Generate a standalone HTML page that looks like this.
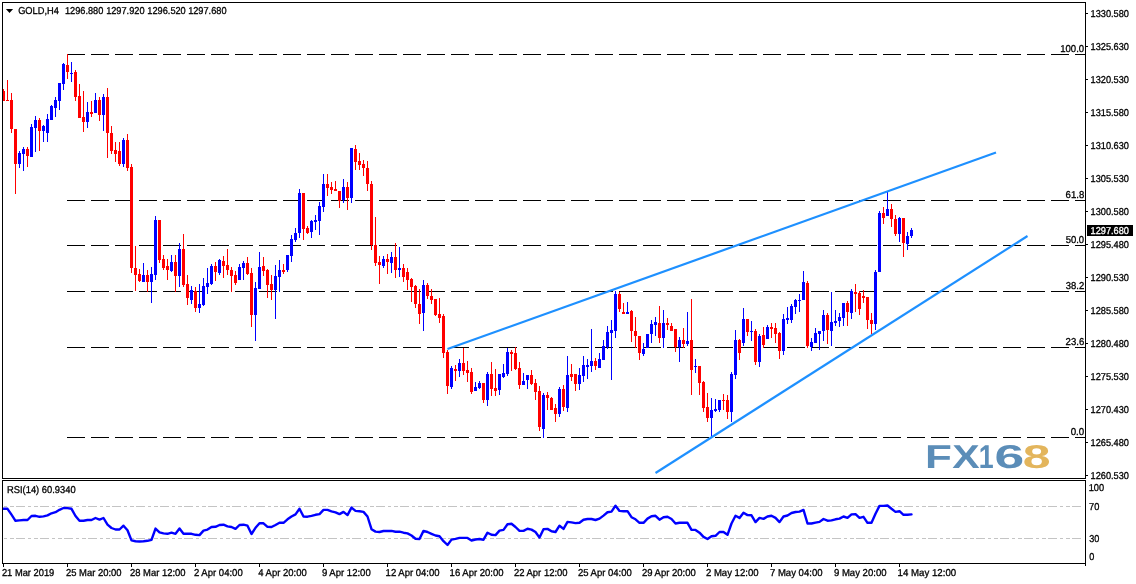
<!DOCTYPE html>
<html lang="en"><head><meta charset="utf-8"><title>GOLD,H4</title>
<style>
html,body{margin:0;padding:0;background:#fff;}
body{width:1136px;height:584px;overflow:hidden;}
svg{display:block;font-family:"Liberation Sans",sans-serif;}
.t{font-size:10.0px;stroke:#000;stroke-width:0.3px;text-rendering:geometricPrecision;}
.w{stroke:#fff;fill:#fff;}
.ce{shape-rendering:crispEdges;}
</style></head><body>
<svg width="1136" height="584" viewBox="0 0 1136 584" fill="#000">
<rect x="0" y="0" width="1136" height="584" fill="#fff"/>
<g class="ce" stroke="#c4c4c4" stroke-width="1" stroke-dasharray="9 2 4 3 3 3" fill="none">
<line x1="1081" y1="506.5" x2="3" y2="506.5"/>
<line x1="1081" y1="538.5" x2="3" y2="538.5"/>
</g>
<g class="ce" stroke="#000" stroke-width="1" stroke-dasharray="18 6" fill="none">
<line x1="67" y1="54.5" x2="1085" y2="54.5"/>
<line x1="67" y1="200.5" x2="1085" y2="200.5"/>
<line x1="67" y1="245.5" x2="1085" y2="245.5"/>
<line x1="67" y1="291.5" x2="1085" y2="291.5"/>
<line x1="67" y1="347.5" x2="1085" y2="347.5"/>
<line x1="67" y1="437.5" x2="1085" y2="437.5"/>
</g>
<g class="ce">
<path fill="#ff0000" d="M3 89h1V101h-1zM2 91h3V101h-3zM7 80h1V101h-1zM6 100h3V101h-3zM11 93h1V133h-1zM10 100h3V129h-3zM15 129h1V194h-1zM14 129h3V164h-3zM27 147h1V167h-1zM26 149h3V156h-3zM39 118h1V151h-1zM38 120h3V131h-3zM67 54h1V79h-1zM66 65h3V72h-3zM75 70h1V101h-1zM74 72h3V97h-3zM79 84h1V118h-1zM78 96h3V118h-3zM83 91h1V132h-1zM82 117h3V122h-3zM91 101h1V117h-1zM90 112h3V114h-3zM99 97h1V121h-1zM98 100h3V115h-3zM107 88h1V158h-1zM106 97h3V133h-3zM111 126h1V154h-1zM110 133h3V151h-3zM115 142h1V162h-1zM114 150h3V154h-3zM119 142h1V166h-1zM118 151h3V164h-3zM127 134h1V171h-1zM126 140h3V168h-3zM131 164h1V273h-1zM130 167h3V268h-3zM135 246h1V291h-1zM134 268h3V275h-3zM139 269h1V282h-1zM138 274h3V281h-3zM147 270h1V292h-1zM146 275h3V282h-3zM159 220h1V263h-1zM158 220h3V260h-3zM163 255h1V270h-1zM162 259h3V268h-3zM167 259h1V280h-1zM166 266h3V270h-3zM175 255h1V292h-1zM174 262h3V276h-3zM183 234h1V287h-1zM182 249h3V285h-3zM187 275h1V305h-1zM186 284h3V298h-3zM195 287h1V312h-1zM194 291h3V308h-3zM215 262h1V281h-1zM214 266h3V272h-3zM223 256h1V278h-1zM222 261h3V266h-3zM227 249h1V275h-1zM226 265h3V270h-3zM231 267h1V292h-1zM230 270h3V276h-3zM235 271h1V285h-1zM234 275h3V283h-3zM247 257h1V275h-1zM246 263h3V274h-3zM251 268h1V327h-1zM250 273h3V315h-3zM263 257h1V276h-1zM262 266h3V271h-3zM267 269h1V298h-1zM266 270h3V285h-3zM271 275h1V300h-1zM270 284h3V290h-3zM283 264h1V274h-1zM282 270h3V272h-3zM303 193h1V240h-1zM302 193h3V229h-3zM307 226h1V234h-1zM306 228h3V233h-3zM327 174h1V196h-1zM326 184h3V188h-3zM331 182h1V194h-1zM330 187h3V190h-3zM335 181h1V191h-1zM334 189h3V191h-3zM339 191h1V208h-1zM338 191h3V201h-3zM347 182h1V210h-1zM346 187h3V198h-3zM355 145h1V170h-1zM354 149h3V162h-3zM359 153h1V170h-1zM358 161h3V165h-3zM363 160h1V176h-1zM362 164h3V168h-3zM367 161h1V191h-1zM366 168h3V184h-3zM371 181h1V250h-1zM370 184h3V245h-3zM375 217h1V266h-1zM374 245h3V263h-3zM379 256h1V284h-1zM378 262h3V265h-3zM387 254h1V274h-1zM386 259h3V262h-3zM395 243h1V278h-1zM394 257h3V270h-3zM403 264h1V282h-1zM402 268h3V277h-3zM407 268h1V290h-1zM406 272h3V280h-3zM411 278h1V302h-1zM410 279h3V287h-3zM415 285h1V308h-1zM414 286h3V304h-3zM419 289h1V324h-1zM418 304h3V314h-3zM427 283h1V299h-1zM426 285h3V296h-3zM431 289h1V304h-1zM430 296h3V300h-3zM435 299h1V316h-1zM434 299h3V315h-3zM439 298h1V323h-1zM438 314h3V318h-3zM443 314h1V358h-1zM442 316h3V353h-3zM447 350h1V394h-1zM446 352h3V386h-3zM455 365h1V381h-1zM454 369h3V371h-3zM463 348h1V375h-1zM462 363h3V371h-3zM467 361h1V382h-1zM466 370h3V373h-3zM471 368h1V394h-1zM470 372h3V392h-3zM483 383h1V403h-1zM482 383h3V400h-3zM491 362h1V396h-1zM490 374h3V389h-3zM495 369h1V396h-1zM494 388h3V391h-3zM511 350h1V371h-1zM510 352h3V354h-3zM515 347h1V370h-1zM514 353h3V369h-3zM519 362h1V389h-1zM518 368h3V385h-3zM531 370h1V385h-1zM530 375h3V384h-3zM535 379h1V400h-1zM534 383h3V392h-3zM539 386h1V431h-1zM538 391h3V427h-3zM547 392h1V410h-1zM546 395h3V398h-3zM551 397h1V410h-1zM550 398h3V410h-3zM555 404h1V422h-1zM554 408h3V414h-3zM563 385h1V411h-1zM562 389h3V407h-3zM571 364h1V381h-1zM570 374h3V377h-3zM575 374h1V391h-1zM574 374h3V384h-3zM595 358h1V370h-1zM594 361h3V366h-3zM619 292h1V312h-1zM618 294h3V309h-3zM623 303h1V314h-1zM622 312h3V314h-3zM631 310h1V342h-1zM630 311h3V331h-3zM635 317h1V348h-1zM634 331h3V336h-3zM639 336h1V360h-1zM638 336h3V353h-3zM659 306h1V343h-1zM658 323h3V338h-3zM667 318h1V330h-1zM666 323h3V325h-3zM671 323h1V331h-1zM670 326h3V331h-3zM675 329h1V352h-1zM674 329h3V347h-3zM683 328h1V348h-1zM682 340h3V344h-3zM691 299h1V395h-1zM690 340h3V370h-3zM699 366h1V395h-1zM698 366h3V383h-3zM703 381h1V412h-1zM702 382h3V408h-3zM707 393h1V422h-1zM706 407h3V418h-3zM723 394h1V410h-1zM722 400h3V401h-3zM727 395h1V419h-1zM726 400h3V412h-3zM739 339h1V360h-1zM738 340h3V353h-3zM747 319h1V336h-1zM746 319h3V332h-3zM755 329h1V365h-1zM754 331h3V362h-3zM763 327h1V348h-1zM762 335h3V345h-3zM771 323h1V338h-1zM770 327h3V329h-3zM775 323h1V343h-1zM774 328h3V334h-3zM779 332h1V359h-1zM778 333h3V351h-3zM807 281h1V348h-1zM806 283h3V346h-3zM827 313h1V344h-1zM826 315h3V330h-3zM847 301h1V326h-1zM846 303h3V312h-3zM855 284h1V312h-1zM854 292h3V294h-3zM859 291h1V315h-1zM858 293h3V309h-3zM863 290h1V303h-1zM862 296h3V298h-3zM867 297h1V329h-1zM866 297h3V320h-3zM871 313h1V334h-1zM870 320h3V324h-3zM883 207h1V224h-1zM882 213h3V218h-3zM891 204h1V227h-1zM890 209h3V219h-3zM895 215h1V236h-1zM894 219h3V234h-3zM903 218h1V257h-1zM902 218h3V243h-3z"/>
<path fill="#0000ff" d="M19 151h1V168h-1zM18 153h3V164h-3zM23 147h1V171h-1zM22 149h3V154h-3zM31 124h1V157h-1zM30 127h3V157h-3zM35 116h1V152h-1zM34 120h3V128h-3zM43 125h1V142h-1zM42 126h3V131h-3zM47 114h1V142h-1zM46 119h3V133h-3zM51 105h1V120h-1zM50 106h3V120h-3zM55 97h1V117h-1zM54 100h3V108h-3zM59 83h1V110h-1zM58 83h3V101h-3zM63 63h1V90h-1zM62 64h3V84h-3zM71 62h1V82h-1zM70 73h3V74h-3zM87 102h1V128h-1zM86 112h3V122h-3zM95 93h1V113h-1zM94 100h3V113h-3zM103 94h1V131h-1zM102 97h3V115h-3zM123 138h1V167h-1zM122 140h3V164h-3zM143 263h1V282h-1zM142 275h3V282h-3zM151 267h1V303h-1zM150 274h3V282h-3zM155 216h1V280h-1zM154 220h3V275h-3zM171 255h1V272h-1zM170 262h3V271h-3zM179 243h1V287h-1zM178 249h3V276h-3zM191 286h1V304h-1zM190 290h3V300h-3zM199 284h1V313h-1zM198 304h3V308h-3zM203 278h1V306h-1zM202 286h3V305h-3zM207 268h1V294h-1zM206 283h3V287h-3zM211 264h1V285h-1zM210 266h3V284h-3zM219 259h1V275h-1zM218 260h3V273h-3zM239 264h1V280h-1zM238 267h3V280h-3zM243 261h1V280h-1zM242 263h3V268h-3zM255 282h1V341h-1zM254 288h3V315h-3zM259 252h1V289h-1zM258 267h3V289h-3zM275 265h1V319h-1zM274 276h3V290h-3zM279 260h1V292h-1zM278 270h3V277h-3zM287 255h1V272h-1zM286 255h3V270h-3zM291 235h1V262h-1zM290 239h3V256h-3zM295 228h1V242h-1zM294 233h3V240h-3zM299 189h1V238h-1zM298 193h3V233h-3zM311 220h1V238h-1zM310 221h3V232h-3zM315 215h1V230h-1zM314 220h3V222h-3zM319 202h1V235h-1zM318 206h3V221h-3zM323 174h1V212h-1zM322 184h3V207h-3zM343 179h1V203h-1zM342 187h3V200h-3zM351 148h1V203h-1zM350 148h3V198h-3zM383 256h1V268h-1zM382 259h3V266h-3zM391 252h1V273h-1zM390 257h3V263h-3zM399 247h1V277h-1zM398 268h3V270h-3zM423 280h1V331h-1zM422 285h3V313h-3zM451 366h1V389h-1zM450 368h3V387h-3zM459 359h1V377h-1zM458 363h3V371h-3zM475 382h1V391h-1zM474 387h3V391h-3zM479 381h1V389h-1zM478 383h3V388h-3zM487 372h1V406h-1zM486 374h3V400h-3zM499 374h1V395h-1zM498 374h3V390h-3zM503 364h1V378h-1zM502 373h3V377h-3zM507 348h1V376h-1zM506 352h3V374h-3zM523 373h1V385h-1zM522 381h3V385h-3zM527 375h1V389h-1zM526 375h3V380h-3zM543 393h1V438h-1zM542 395h3V429h-3zM559 387h1V417h-1zM558 389h3V414h-3zM567 356h1V412h-1zM566 375h3V408h-3zM579 368h1V390h-1zM578 375h3V384h-3zM583 356h1V382h-1zM582 365h3V376h-3zM587 359h1V379h-1zM586 365h3V367h-3zM591 329h1V372h-1zM590 361h3V366h-3zM599 353h1V368h-1zM598 359h3V368h-3zM603 340h1V360h-1zM602 346h3V360h-3zM607 326h1V349h-1zM606 332h3V347h-3zM611 320h1V380h-1zM610 330h3V333h-3zM615 291h1V338h-1zM614 294h3V331h-3zM627 302h1V314h-1zM626 312h3V314h-3zM643 343h1V356h-1zM642 349h3V354h-3zM647 334h1V348h-1zM646 334h3V348h-3zM651 320h1V343h-1zM650 324h3V334h-3zM655 317h1V336h-1zM654 322h3V325h-3zM663 310h1V348h-1zM662 323h3V338h-3zM679 337h1V362h-1zM678 340h3V347h-3zM687 312h1V346h-1zM686 341h3V344h-3zM695 359h1V373h-1zM694 366h3V367h-3zM711 398h1V438h-1zM710 410h3V418h-3zM715 399h1V412h-1zM714 409h3V411h-3zM719 400h1V412h-1zM718 400h3V410h-3zM731 372h1V422h-1zM730 374h3V412h-3zM735 330h1V379h-1zM734 340h3V375h-3zM743 308h1V346h-1zM742 319h3V343h-3zM751 321h1V341h-1zM750 331h3V332h-3zM759 334h1V367h-1zM758 336h3V362h-3zM767 325h1V339h-1zM766 327h3V339h-3zM783 314h1V355h-1zM782 319h3V351h-3zM787 307h1V324h-1zM786 318h3V320h-3zM791 304h1V323h-1zM790 306h3V320h-3zM795 299h1V314h-1zM794 300h3V307h-3zM799 294h1V312h-1zM798 300h3V301h-3zM803 271h1V300h-1zM802 282h3V300h-3zM811 338h1V351h-1zM810 342h3V347h-3zM815 328h1V343h-1zM814 333h3V343h-3zM819 331h1V350h-1zM818 331h3V334h-3zM823 310h1V341h-1zM822 315h3V331h-3zM831 292h1V346h-1zM830 322h3V331h-3zM835 310h1V326h-1zM834 321h3V323h-3zM839 313h1V327h-1zM838 317h3V321h-3zM843 303h1V326h-1zM842 303h3V318h-3zM851 289h1V319h-1zM850 291h3V313h-3zM875 270h1V330h-1zM874 272h3V324h-3zM879 211h1V272h-1zM878 213h3V272h-3zM887 192h1V216h-1zM886 209h3V216h-3zM899 217h1V242h-1zM898 218h3V234h-3zM907 232h1V250h-1zM906 236h3V244h-3zM911 228h1V238h-1zM910 230h3V236h-3z"/>
</g>
<g stroke="#1e90ff" stroke-width="2.2" fill="none" stroke-linecap="butt">
<line x1="447.5" y1="349" x2="996" y2="152.5"/>
<line x1="655.5" y1="473" x2="1027.5" y2="236"/>
</g>
<polyline points="3.5,508.8 7.5,508.8 11.5,514.7 15.5,520.8 19.5,520.4 23.5,520.0 27.5,520.0 31.5,516.0 35.5,515.8 39.5,516.8 43.5,516.4 47.5,515.4 51.5,513.3 55.5,512.2 59.5,509.8 63.5,508.0 67.5,508.1 71.5,508.8 75.5,516.0 79.5,520.8 83.5,520.8 87.5,520.0 91.5,520.0 95.5,518.0 99.5,519.6 103.5,518.0 107.5,524.6 111.5,528.0 115.5,529.5 119.5,529.5 123.5,525.7 127.5,530.2 131.5,540.4 135.5,541.2 139.5,541.5 143.5,541.2 147.5,540.8 151.5,539.8 155.5,528.6 159.5,532.4 163.5,533.4 167.5,533.8 171.5,532.7 175.5,533.8 179.5,528.5 183.5,533.8 187.5,533.8 191.5,533.8 195.5,534.8 199.5,535.1 203.5,530.6 207.5,529.6 211.5,527.0 215.5,526.8 219.5,525.0 223.5,524.7 227.5,526.4 231.5,527.0 235.5,528.9 239.5,525.0 243.5,524.7 247.5,525.7 251.5,534.0 255.5,527.8 259.5,523.3 263.5,523.3 267.5,526.8 271.5,527.0 275.5,525.0 279.5,522.8 283.5,522.8 287.5,519.3 291.5,516.5 295.5,514.4 299.5,508.8 303.5,516.5 307.5,516.7 311.5,515.8 315.5,514.8 319.5,514.1 323.5,509.9 327.5,509.9 331.5,511.3 335.5,512.3 339.5,514.1 343.5,511.9 347.5,515.1 351.5,507.6 355.5,510.9 359.5,511.3 363.5,511.9 367.5,516.5 371.5,529.2 375.5,531.6 379.5,532.0 383.5,531.0 387.5,531.0 391.5,530.9 395.5,531.7 399.5,531.7 403.5,532.7 407.5,533.4 411.5,535.5 415.5,538.8 419.5,539.0 423.5,530.9 427.5,532.0 431.5,533.8 435.5,535.5 439.5,536.2 443.5,541.2 447.5,545.0 451.5,539.6 455.5,538.9 459.5,537.9 463.5,537.9 467.5,537.9 471.5,540.5 475.5,539.5 479.5,539.0 483.5,539.7 487.5,532.7 491.5,534.8 495.5,535.1 499.5,530.6 503.5,529.9 507.5,524.3 511.5,523.8 515.5,527.0 519.5,530.9 523.5,530.9 527.5,528.8 531.5,529.6 535.5,532.0 539.5,537.6 543.5,529.2 547.5,528.9 551.5,531.3 555.5,532.0 559.5,525.7 563.5,528.9 567.5,521.9 571.5,522.4 575.5,523.1 579.5,522.8 583.5,519.7 587.5,519.0 591.5,519.0 595.5,520.0 599.5,518.6 603.5,515.6 607.5,512.3 611.5,511.6 615.5,505.7 619.5,510.9 623.5,511.2 627.5,511.2 631.5,517.2 635.5,519.3 639.5,522.8 643.5,522.8 647.5,518.6 651.5,516.2 655.5,515.8 659.5,519.7 663.5,517.2 667.5,516.8 671.5,519.0 675.5,523.5 679.5,522.8 683.5,522.8 687.5,522.8 691.5,529.9 695.5,529.9 699.5,532.7 703.5,536.9 707.5,539.0 711.5,536.2 715.5,535.8 719.5,532.0 723.5,532.0 727.5,534.8 731.5,523.5 735.5,515.8 739.5,517.9 743.5,512.7 747.5,515.1 751.5,515.3 755.5,522.1 759.5,517.9 763.5,518.9 767.5,516.5 771.5,515.8 775.5,517.9 779.5,522.1 783.5,516.5 787.5,515.5 791.5,513.0 795.5,512.0 799.5,511.6 803.5,509.9 807.5,523.5 811.5,523.5 815.5,522.6 819.5,521.9 823.5,519.0 827.5,520.7 831.5,520.4 835.5,519.3 839.5,518.6 843.5,516.5 847.5,517.9 851.5,514.4 855.5,514.1 859.5,517.9 863.5,516.8 867.5,522.8 871.5,522.8 875.5,513.7 879.5,505.9 883.5,505.9 887.5,505.5 891.5,508.8 895.5,511.9 899.5,511.2 903.5,514.8 907.5,514.8 911.5,514.4" fill="none" stroke="#0000ff" stroke-width="2.4" stroke-linejoin="round" stroke-linecap="round"/>
<g class="ce" fill="#000">
<rect x="2" y="2" width="1084" height="1"/>
<rect x="2" y="2" width="1" height="477"/>
<rect x="2" y="478" width="1084" height="1"/>
<rect x="2" y="480" width="1084" height="1"/>
<rect x="2" y="480" width="1" height="84"/>
<rect x="2" y="563" width="1084" height="1"/>
<rect x="1085" y="2" width="1" height="477"/>
<rect x="1085" y="480" width="1" height="86"/>
<rect x="1086" y="13" width="2" height="1"/>
<rect x="1086" y="46" width="2" height="1"/>
<rect x="1086" y="79" width="2" height="1"/>
<rect x="1086" y="112" width="2" height="1"/>
<rect x="1086" y="145" width="2" height="1"/>
<rect x="1086" y="178" width="2" height="1"/>
<rect x="1086" y="211" width="2" height="1"/>
<rect x="1086" y="244" width="2" height="1"/>
<rect x="1086" y="277" width="2" height="1"/>
<rect x="1086" y="310" width="2" height="1"/>
<rect x="1086" y="343" width="2" height="1"/>
<rect x="1086" y="376" width="2" height="1"/>
<rect x="1086" y="409" width="2" height="1"/>
<rect x="1086" y="442" width="2" height="1"/>
<rect x="1086" y="475" width="2" height="1"/>
<rect x="3" y="564" width="1" height="3"/>
<rect x="67" y="564" width="1" height="3"/>
<rect x="131" y="564" width="1" height="3"/>
<rect x="195" y="564" width="1" height="3"/>
<rect x="259" y="564" width="1" height="3"/>
<rect x="323" y="564" width="1" height="3"/>
<rect x="387" y="564" width="1" height="3"/>
<rect x="451" y="564" width="1" height="3"/>
<rect x="515" y="564" width="1" height="3"/>
<rect x="579" y="564" width="1" height="3"/>
<rect x="643" y="564" width="1" height="3"/>
<rect x="707" y="564" width="1" height="3"/>
<rect x="771" y="564" width="1" height="3"/>
<rect x="835" y="564" width="1" height="3"/>
<rect x="899" y="564" width="1" height="3"/>
<rect x="1087" y="225" width="46" height="11"/>
</g>
<path d="M5.9 9h7.2l-3.6 4.1z" fill="#000"/>
<text y="467.8" font-weight="bold" font-size="33.0px" style="text-rendering:geometricPrecision"><tspan x="925.07" textLength="26.88" lengthAdjust="spacingAndGlyphs" fill="#5b8db8">F</tspan><tspan x="952.32" textLength="27.39" lengthAdjust="spacingAndGlyphs" fill="#5b8db8">X</tspan><tspan x="978.71" textLength="14.90" lengthAdjust="spacingAndGlyphs" fill="#5b8db8">1</tspan><tspan x="994.42" textLength="29.69" lengthAdjust="spacingAndGlyphs" fill="#5b8db8">6</tspan><tspan x="1022.73" textLength="27.81" lengthAdjust="spacingAndGlyphs" fill="#e3b55c">8</tspan></text>
<text class="t" transform="translate(18.14 14.00) scale(0.9266 1)" xml:space="preserve">GOLD,H4</text>
<text class="t" transform="translate(64.93 14.00) scale(0.9210 1)" xml:space="preserve">1296.880</text>
<text class="t" transform="translate(106.13 14.00) scale(0.9210 1)" xml:space="preserve">1297.920</text>
<text class="t" transform="translate(147.33 14.00) scale(0.9210 1)" xml:space="preserve">1296.520</text>
<text class="t" transform="translate(188.13 14.00) scale(0.9210 1)" xml:space="preserve">1297.680</text>
<text class="t" transform="translate(1090.53 17.00) scale(0.9210 1)" xml:space="preserve">1330.580</text>
<text class="t" transform="translate(1090.53 50.00) scale(0.9210 1)" xml:space="preserve">1325.630</text>
<text class="t" transform="translate(1090.53 83.00) scale(0.9210 1)" xml:space="preserve">1320.530</text>
<text class="t" transform="translate(1090.53 116.00) scale(0.9210 1)" xml:space="preserve">1315.580</text>
<text class="t" transform="translate(1090.53 149.00) scale(0.9210 1)" xml:space="preserve">1310.630</text>
<text class="t" transform="translate(1090.53 182.00) scale(0.9210 1)" xml:space="preserve">1305.530</text>
<text class="t" transform="translate(1090.53 215.00) scale(0.9210 1)" xml:space="preserve">1300.580</text>
<text class="t" transform="translate(1090.53 248.00) scale(0.9210 1)" xml:space="preserve">1295.480</text>
<text class="t" transform="translate(1090.53 281.00) scale(0.9210 1)" xml:space="preserve">1290.530</text>
<text class="t" transform="translate(1090.53 314.00) scale(0.9210 1)" xml:space="preserve">1285.580</text>
<text class="t" transform="translate(1090.53 347.00) scale(0.9210 1)" xml:space="preserve">1280.480</text>
<text class="t" transform="translate(1090.53 380.00) scale(0.9210 1)" xml:space="preserve">1275.530</text>
<text class="t" transform="translate(1090.53 413.00) scale(0.9210 1)" xml:space="preserve">1270.430</text>
<text class="t" transform="translate(1090.53 446.00) scale(0.9210 1)" xml:space="preserve">1265.480</text>
<text class="t" transform="translate(1090.53 479.00) scale(0.9210 1)" xml:space="preserve">1260.530</text>
<text class="t w" transform="translate(1090.53 234.00) scale(0.9210 1)" xml:space="preserve">1297.680</text>
<text class="t" transform="translate(1060.20 52.00) scale(0.9566 1)" xml:space="preserve">100.0</text>
<text class="t" transform="translate(1065.62 198.00) scale(0.9568 1)" xml:space="preserve">61.8</text>
<text class="t" transform="translate(1065.63 243.00) scale(0.9482 1)" xml:space="preserve">50.0</text>
<text class="t" transform="translate(1065.78 289.00) scale(0.9482 1)" xml:space="preserve">38.2</text>
<text class="t" transform="translate(1065.62 345.00) scale(0.9568 1)" xml:space="preserve">23.6</text>
<text class="t" transform="translate(1070.68 435.00) scale(0.9722 1)" xml:space="preserve">0.0</text>
<text class="t" transform="translate(6.97 493.00) scale(0.9353 1)" xml:space="preserve">RSI(14) 60.9340</text>
<text class="t" transform="translate(1088.73 491.00) scale(0.9226 1)" xml:space="preserve">100</text>
<text class="t" transform="translate(1089.04 510.00) scale(0.9246 1)" xml:space="preserve">70</text>
<text class="t" transform="translate(1089.20 542.00) scale(0.9097 1)" xml:space="preserve">30</text>
<text class="t" transform="translate(1089.20 560.00) scale(0.9103 1)" xml:space="preserve">0</text>
<text class="t" transform="translate(1.93 576.00) scale(0.9317 1)" xml:space="preserve">21 Mar 2019</text>
<text class="t" transform="translate(65.93 576.00) scale(0.9431 1)" xml:space="preserve">25 Mar 20:00</text>
<text class="t" transform="translate(129.93 576.00) scale(0.9431 1)" xml:space="preserve">28 Mar 12:00</text>
<text class="t" transform="translate(193.92 576.00) scale(0.9536 1)" xml:space="preserve">2 Apr 04:00</text>
<text class="t" transform="translate(258.24 576.00) scale(0.9474 1)" xml:space="preserve">4 Apr 20:00</text>
<text class="t" transform="translate(321.92 576.00) scale(0.9536 1)" xml:space="preserve">9 Apr 12:00</text>
<text class="t" transform="translate(385.61 576.00) scale(0.9514 1)" xml:space="preserve">12 Apr 04:00</text>
<text class="t" transform="translate(449.61 576.00) scale(0.9514 1)" xml:space="preserve">16 Apr 20:00</text>
<text class="t" transform="translate(513.93 576.00) scale(0.9457 1)" xml:space="preserve">22 Apr 12:00</text>
<text class="t" transform="translate(577.93 576.00) scale(0.9493 1)" xml:space="preserve">25 Apr 04:00</text>
<text class="t" transform="translate(641.93 576.00) scale(0.9493 1)" xml:space="preserve">29 Apr 20:00</text>
<text class="t" transform="translate(705.92 576.00) scale(0.9563 1)" xml:space="preserve">2 May 12:00</text>
<text class="t" transform="translate(769.92 576.00) scale(0.9563 1)" xml:space="preserve">7 May 04:00</text>
<text class="t" transform="translate(833.92 576.00) scale(0.9563 1)" xml:space="preserve">9 May 20:00</text>
<text class="t" transform="translate(897.60 576.00) scale(0.9657 1)" xml:space="preserve">14 May 12:00</text>
</svg>
</body></html>
